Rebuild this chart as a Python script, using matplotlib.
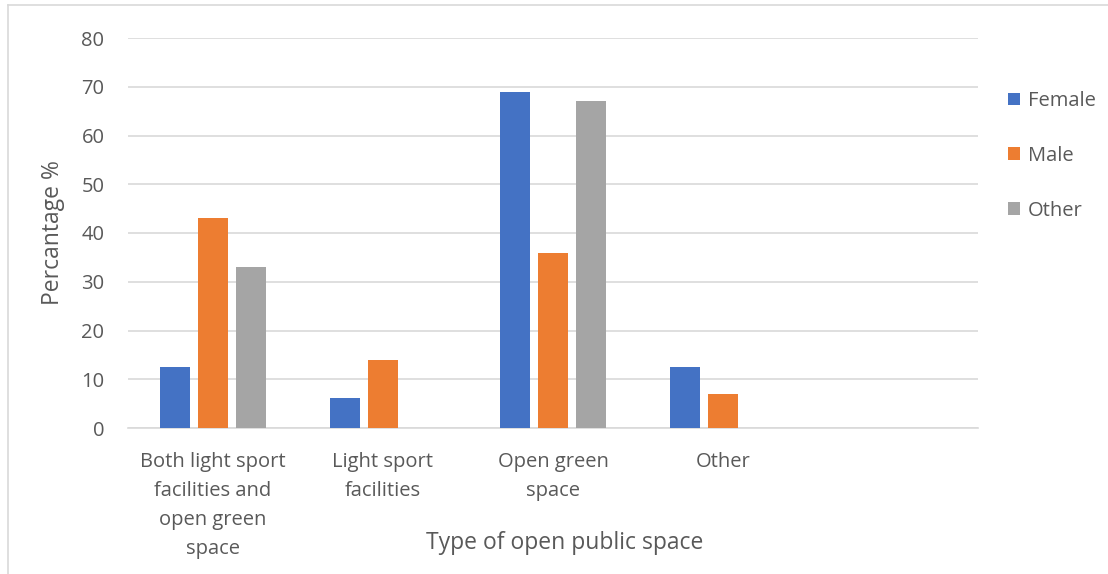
import numpy as np
import matplotlib
matplotlib.use("Agg")
import matplotlib.pyplot as plt
from matplotlib.lines import Line2D

# data
categories = ["Both light sport\nfacilities and\nopen green\nspace",
              "Light sport\nfacilities", "Open green\nspace", "Other", ""]
female = [12.5, 6.2, 69, 12.5, 0]
male = [43, 14, 36, 7, 0]
other = [33, 0, 67, 0, 0]
series = ["Female", "Male", "Other"]
colors = ["#4472c4", "#ed7d31", "#a5a5a5"]

plt.rcParams['font.family'] = ['Open Sans', 'DejaVu Sans']
txt = "#595959"

fig = plt.figure(figsize=(11.08, 5.74), dpi=100)
ax = fig.add_axes([128/1108, 1-428/574, 850/1108, 390/574])

x = np.arange(len(categories))
w = 0.176
off = 0.2235
for i, (vals, name) in enumerate(zip([female, male, other], series)):
    vv = np.array(vals, dtype=float)
    ax.bar(x + (i-1)*off, vv, w, color=colors[i], label=name, zorder=3)

ax.set_xlim(-0.5, len(categories)-0.5)
ax.set_ylim(0, 80)
ax.set_yticks(range(0, 81, 10))
ax.yaxis.grid(True, color="#d9d9d9", linewidth=1.2, zorder=0)
ax.set_axisbelow(True)
for s in ["top", "right", "left"]:
    ax.spines[s].set_visible(False)
ax.spines["bottom"].set_color("#d9d9d9")
ax.spines["bottom"].set_linewidth(1.2)
ax.tick_params(length=0, colors=txt, labelsize=14.5)
ax.tick_params(axis="y", pad=17)
ax.tick_params(axis="x", pad=17)
ax.set_xticks(x)
ax.set_xticklabels(categories, linespacing=1.6)
ax.set_ylabel("Percantage %", color=txt, fontsize=16.5, labelpad=12)

fig.text(565/1108, 1-543/574, "Type of open public space", ha="center",
         va="center", color=txt, fontsize=16.5)

leg = ax.legend(loc="upper left", bbox_to_anchor=(1008/1108, 1-91/574),
                bbox_transform=fig.transFigure, frameon=False,
                fontsize=14.5, labelspacing=1.73, handlelength=0.6,
                handleheight=0.6, handletextpad=0.4, borderpad=0,
                borderaxespad=0)
for t in leg.get_texts():
    t.set_color(txt)

# outer chart border
fig.add_artist(Line2D([8/1108, 8/1108], [0, 1-5/574], color="#d9d9d9",
                      linewidth=1.2, transform=fig.transFigure))
fig.add_artist(Line2D([8/1108, 1], [1-5/574, 1-5/574], color="#d9d9d9",
                      linewidth=1.2, transform=fig.transFigure))

fig.savefig("out.png", dpi=100)
